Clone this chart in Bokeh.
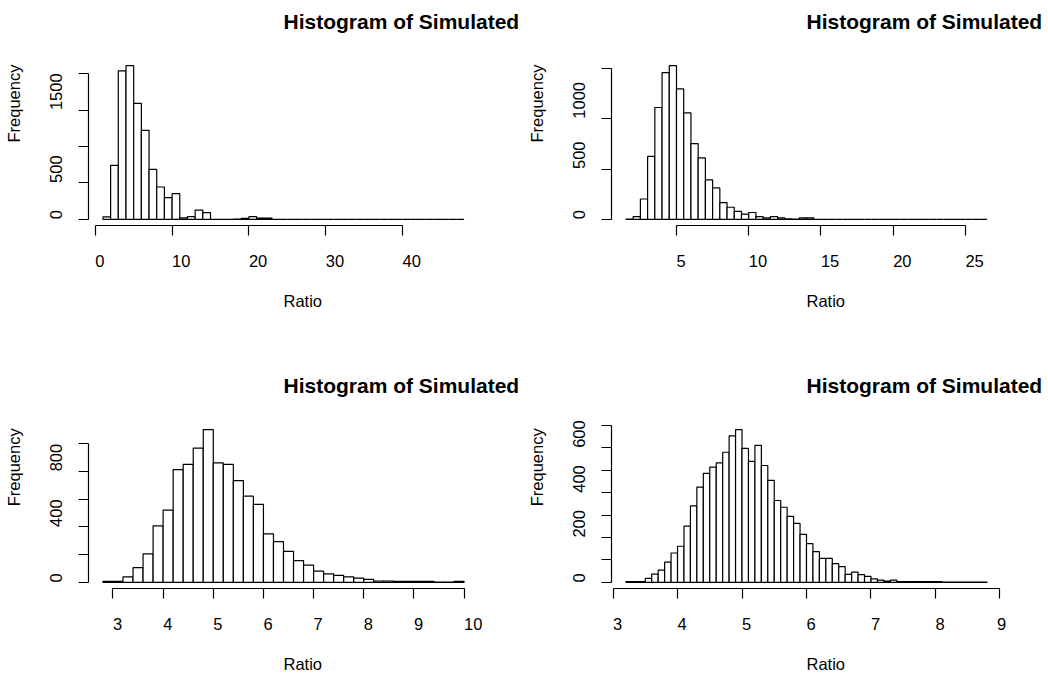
from bokeh.plotting import figure
from bokeh.models import (FixedTicker, ColumnDataSource, Range1d, LinearAxis,
                          CustomJSTickFormatter)
from bokeh.layouts import column, row
from bokeh.embed import file_html
from bokeh.resources import INLINE

FONT = "Liberation Sans"
TITLE = "Histogram of Simulated"
XLAB = "Ratio"
YLAB = "Frequency"

# ---- panel 1 (top-left) ----
breaks1 = [1, 2, 3, 4, 5, 6, 7, 8, 9, 10, 11, 12, 13, 14, 15, 16, 17, 18, 19, 20,
           21, 22, 23, 24, 25, 26, 27, 28, 29, 30, 31, 32, 33, 34, 35, 36, 37, 38, 39, 40,
           41, 42, 43, 44, 45, 46, 47, 48]
counts1 = [35, 741, 2037, 2110, 1593, 1222, 686, 444, 297, 352, 20, 38, 128, 92, 1, 0,
           1, 3, 14, 37, 18, 18, 1, 0, 0, 0, 0, 0, 0, 0, 0, 0, 0, 0, 0, 0, 0, 0, 0, 0,
           0, 0, 0, 0, 0, 0, 0]
xticks1 = [0, 10, 20, 30, 40]
xlabels1 = ["0", "10", "20", "30", "40"]
yticks1 = [0, 500, 1000, 1500, 2000]
ylab_ticks1 = [0, 500, 1500]
ylabels1 = ["0", "500", "1500"]

# ---- panel 2 (top-right) ----
breaks2 = [1.5, 2, 2.5, 3, 3.5, 4, 4.5, 5, 5.5, 6, 6.5, 7, 7.5, 8, 8.5, 9, 9.5, 10,
           10.5, 11, 11.5, 12, 12.5, 13, 13.5, 14, 14.5, 15, 15.5, 16, 16.5, 17, 17.5,
           18, 18.5, 19, 19.5, 20, 20.5, 21, 21.5, 22, 22.5, 23, 23.5, 24, 24.5, 25,
           25.5, 26, 26.5]
counts2 = [2, 28, 202, 625, 1111, 1457, 1527, 1296, 1058, 752, 610, 392, 312, 166, 120,
           80, 52, 68, 28, 15, 28, 15, 4, 3, 15, 15, 0, 0, 0, 0, 0, 0, 0, 0, 0, 0, 0, 0,
           0, 0, 0, 0, 0, 0, 0, 0, 0, 0, 0, 0]
xticks2 = [5, 10, 15, 20, 25]
xlabels2 = ["5", "10", "15", "20", "25"]
yticks2 = [0, 500, 1000, 1500]
ylab_ticks2 = [0, 500, 1000]
ylabels2 = ["0", "500", "1000"]

# ---- panel 3 (bottom-left) ----
breaks3 = [2.8, 3.0, 3.2, 3.4, 3.6, 3.8, 4.0, 4.2, 4.4, 4.6, 4.8, 5.0, 5.2, 5.4, 5.6,
           5.8, 6.0, 6.2, 6.4, 6.6, 6.8, 7.0, 7.2, 7.4, 7.6, 7.8, 8.0, 8.2, 8.4, 8.6,
           8.8, 9.0, 9.2, 9.4, 9.6, 9.8, 10.0]
counts3 = [7, 7, 40, 107, 205, 407, 521, 812, 850, 967, 1100, 860, 850, 733, 621, 562,
           350, 293, 224, 157, 124, 81, 62, 50, 40, 31, 21, 10, 10, 8, 8, 8, 7, 2, 2, 8]
xticks3 = [3, 4, 5, 6, 7, 8, 9, 10]
xlabels3 = ["3", "4", "5", "6", "7", "8", "9", "10"]
yticks3 = [0, 200, 400, 600, 800, 1000]
ylab_ticks3 = [0, 400, 800]
ylabels3 = ["0", "400", "800"]

# ---- panel 4 (bottom-right) ----
breaks4 = [3.2, 3.3, 3.4, 3.5, 3.6, 3.7, 3.8, 3.9, 4.0, 4.1, 4.2, 4.3, 4.4, 4.5, 4.6,
           4.7, 4.8, 4.9, 5.0, 5.1, 5.2, 5.3, 5.4, 5.5, 5.6, 5.7, 5.8, 5.9, 6.0, 6.1,
           6.2, 6.3, 6.4, 6.5, 6.6, 6.7, 6.8, 6.9, 7.0, 7.1, 7.2, 7.3, 7.4, 7.5, 7.6,
           7.7, 7.8, 7.9, 8.0, 8.1, 8.2, 8.3, 8.4, 8.5, 8.6, 8.7, 8.8]
counts4 = [4, 4, 4, 18, 37, 55, 90, 131, 161, 251, 341, 425, 486, 514, 533, 580, 653,
           681, 597, 539, 611, 521, 455, 365, 335, 294, 263, 214, 173, 137, 107, 107,
           84, 70, 36, 46, 35, 27, 16, 10, 6, 10, 4, 4, 4, 4, 4, 4, 4, 1, 1, 1, 1, 1,
           1, 1]
xticks4 = [3, 4, 5, 6, 7, 8, 9]
xlabels4 = ["3", "4", "5", "6", "7", "8", "9"]
yticks4 = [0, 100, 200, 300, 400, 500, 600, 700]
ylab_ticks4 = [0, 200, 400, 600]
ylabels4 = ["0", "200", "400", "600"]

FW, FH = 390, 166          # plot-region size in px
LBL_SIZE = 16.5            # px
TTL_SIZE = 21              # px
CHAR_W = 0.556 * LBL_SIZE  # digit advance width (Liberation Sans)
TITLE_W = 11.224 * TTL_SIZE    # width of the bold title text
XLAB_W = 2.334 * LBL_SIZE      # width of "Ratio"
YLAB_W = 4.724 * LBL_SIZE      # width of "Frequency"

JS_FMT = """
let best = 0, bd = Infinity;
for (let i = 0; i < pos.length; i++) {
  const d = Math.abs(pos[i] - tick);
  if (d < bd) { bd = d; best = i; }
}
return labels[best];
"""


def text_axis(pos, labels, orientation, standoff, size=LBL_SIZE, style="normal"):
    """An axis without line or ticks that only writes texts at given places."""
    ax = LinearAxis(ticker=FixedTicker(ticks=pos),
                    formatter=CustomJSTickFormatter(args=dict(pos=pos, labels=labels),
                                                    code=JS_FMT))
    ax.axis_line_color = None
    ax.major_tick_line_color = None
    ax.minor_tick_line_color = None
    ax.major_tick_in = 0
    ax.major_tick_out = 0
    ax.major_label_standoff = int(standoff)
    ax.major_label_orientation = orientation
    ax.major_label_text_font = FONT
    ax.major_label_text_font_size = f"{size}px"
    ax.major_label_text_font_style = style
    ax.major_label_text_color = "black"
    return ax


def panel(breaks, counts, xticks, xlabels, yticks, ylab_ticks, ylabels,
          width, height, bl, br, bt, bb):
    lo, hi = breaks[0], breaks[-1]
    dx = hi - lo
    ymax = max(counts)
    xr = Range1d(lo - 0.04 * dx, hi + 0.04 * dx)
    yr = Range1d(-0.04 * ymax, 1.04 * ymax)
    p = figure(x_range=xr, y_range=yr, width=width, height=height,
               min_border_left=bl, min_border_right=br, min_border_top=bt,
               min_border_bottom=bb, output_backend="svg", toolbar_location=None,
               title=None)
    p.outline_line_color = None
    p.xgrid.visible = False
    p.ygrid.visible = False
    p.background_fill_color = "white"
    p.border_fill_color = "white"

    src = ColumnDataSource(dict(left=breaks[:-1], right=breaks[1:], top=counts,
                                bottom=[0] * len(counts)))
    p.quad(left="left", right="right", top="top", bottom="bottom", source=src,
           fill_color="white", line_color="black", line_width=1.2)

    # tick marks + axis lines (R style: line only from first to last tick)
    for ax, ticks in ((p.xaxis[0], xticks), (p.yaxis[0], yticks)):
        ax.ticker = FixedTicker(ticks=ticks)
        ax.bounds = (ticks[0], ticks[-1])
        ax.axis_line_color = "black"
        ax.axis_line_width = 1.2
        ax.major_tick_line_color = "black"
        ax.major_tick_line_width = 1.2
        ax.major_tick_out = 10
        ax.major_tick_in = 0
        ax.minor_tick_line_color = None
        ax.major_label_text_alpha = 0
        ax.major_label_text_font_size = "1px"
        ax.major_label_standoff = 0

    # texts begin at the tick / at the plot centre (as in the reference)
    xppu = FW / (xr.end - xr.start)
    yppu = FH / (yr.end - yr.start)
    xc = (xr.start + xr.end) / 2
    yc = (yr.start + yr.end) / 2
    xpos = [min(t + len(s) * CHAR_W / 2 / xppu, xr.end - 1e-9) for t, s in zip(xticks, xlabels)]
    ypos = [min(t + len(s) * CHAR_W / 2 / yppu, yr.end - 1e-9) for t, s in zip(ylab_ticks, ylabels)]
    p.add_layout(text_axis(xpos, xlabels, "horizontal", 19), "below")
    p.add_layout(text_axis([xc + XLAB_W / 2 / xppu], [XLAB], "horizontal", 22), "below")
    p.add_layout(text_axis(ypos, ylabels, "vertical", 16), "left")
    p.add_layout(text_axis([yc + YLAB_W / 2 / yppu], [YLAB], "vertical", 24), "left")
    p.add_layout(text_axis([xc + TITLE_W / 2 / xppu], [TITLE], "horizontal", 27,
                           size=TTL_SIZE, style="bold"), "above")
    return p


p1 = panel(breaks1, counts1, xticks1, xlabels1, yticks1, ylab_ticks1, ylabels1,
           524, 340, 88, 46, 59, 115)
p2 = panel(breaks2, counts2, xticks2, xlabels2, yticks2, ylab_ticks2, ylabels2,
           524, 340, 87, 47, 59, 115)
p3 = panel(breaks3, counts3, xticks3, xlabels3, yticks3, ylab_ticks3, ylabels3,
           524, 335, 88, 46, 83, 86)
p4 = panel(breaks4, counts4, xticks4, xlabels4, yticks4, ylab_ticks4, ylabels4,
           524, 335, 87, 47, 83, 86)

layout = column(row(p1, p2), row(p3, p4))
open("out.html", "w").write(file_html(layout, INLINE))
